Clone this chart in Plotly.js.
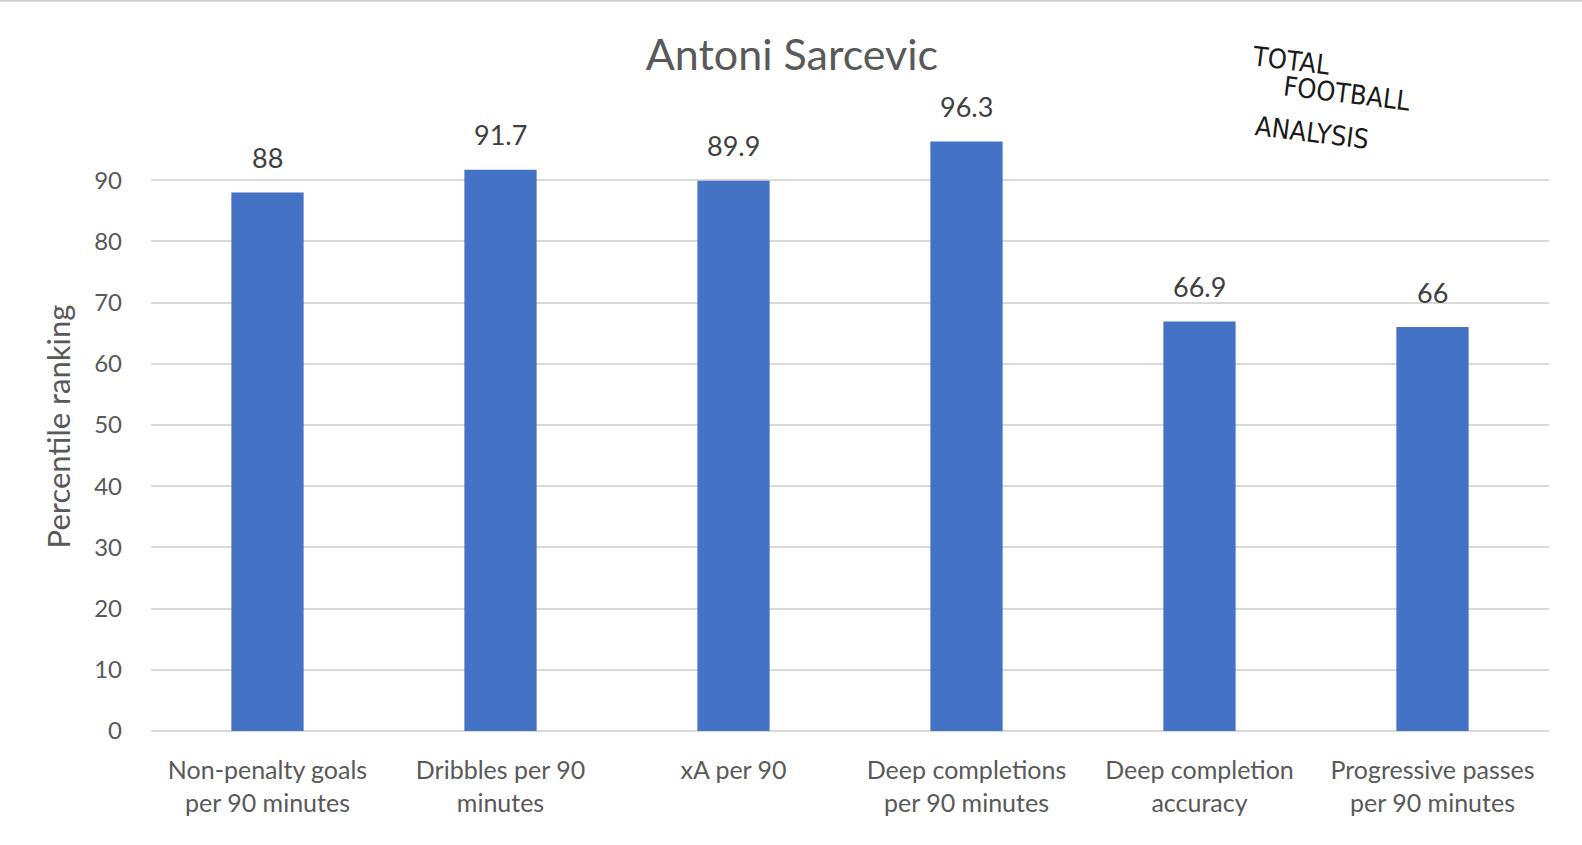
<!DOCTYPE html>
<html>
<head>
<meta charset="utf-8">
<script src="https://cdn.plot.ly/plotly-3.0.1.min.js"></script>
<style>
  html, body { margin: 0; padding: 0; background: #ffffff; }
  #chart { width: 1582px; height: 845px; }
</style>
</head>
<body>
<div id="chart"></div>
<script>
const chartTitle = "Antoni Sarcevic";
const yAxisTitle = "Percentile ranking";
const categories = [
  "Non-penalty goals<br>per 90 minutes",
  "Dribbles per 90<br>minutes",
  "xA per 90",
  "Deep completions<br>per 90 minutes",
  "Deep completion<br>accuracy",
  "Progressive passes<br>per 90 minutes"
];
const percentiles = [88, 91.7, 89.9, 96.3, 66.9, 66];
const logoLines = ["TOTAL", "FOOTBALL", "ANALYSIS"];

const FONT = "Lato, 'Open Sans', sans-serif";
const GREY = "#595959";

const valueLabels = categories.map((c, i) => ({
  x: c, y: percentiles[i], xref: "x", yref: "y",
  text: String(percentiles[i]), showarrow: false,
  xanchor: "center", yanchor: "middle",
  yshift: 35, font: { family: FONT, size: 27, color: "#404040" }
}));

const logoPos = [[0.8155, 1.101], [0.8555, 1.046], [0.8305, 0.982]];
const logoAnn = logoLines.map((t, i) => ({
  x: logoPos[i][0], y: logoPos[i][1], xref: "paper", yref: "paper",
  xanchor: "center", yanchor: "middle",
  text: t, showarrow: false, textangle: 7,
  font: { family: "'DejaVu Sans Condensed', 'Liberation Sans Narrow', sans-serif", size: 27, color: "#1a1a1a", weight: 300 }
}));

const data = [{
  type: "bar",
  x: categories,
  y: percentiles,
  marker: { color: "#4472C4" },
  hoverinfo: "x+y"
}];

const layout = {
  width: 1582, height: 845,
  margin: { l: 151, r: 33, t: 122, b: 114 },
  paper_bgcolor: "#ffffff", plot_bgcolor: "#ffffff",
  bargap: 0.69,
  showlegend: false,
  title: {
    text: chartTitle,
    x: 792 / 1582, xref: "container", xanchor: "center",
    y: 1 - 55 / 845, yref: "container", yanchor: "middle",
    font: { family: FONT, size: 43, color: GREY }
  },
  xaxis: {
    type: "category",
    showgrid: false, zeroline: false, showline: false,
    ticks: "", ticklabelstandoff: 22,
    tickfont: { family: FONT, size: 25, color: GREY },
    automargin: false
  },
  yaxis: {
    range: [0, 99.5], dtick: 10,
    showgrid: true, gridcolor: "#D9D9D9", gridwidth: 1.5,
    zeroline: true, zerolinecolor: "#D9D9D9", zerolinewidth: 1.5,
    showline: false, ticks: "", ticklabelstandoff: 28,
    tickfont: { family: FONT, size: 24, color: GREY },
    title: { text: yAxisTitle, standoff: 14, font: { family: FONT, size: 31, color: GREY } },
    automargin: false
  },
  annotations: valueLabels.concat(logoAnn),
  shapes: [{
    type: "line", xref: "paper", yref: "paper",
    x0: -0.11, x1: 1.03, y0: 1.2, y1: 1.2,
    line: { color: "#D0D0D0", width: 3 }
  }]
};

Plotly.newPlot("chart", data, layout, { displayModeBar: false, responsive: false });
</script>
</body>
</html>
